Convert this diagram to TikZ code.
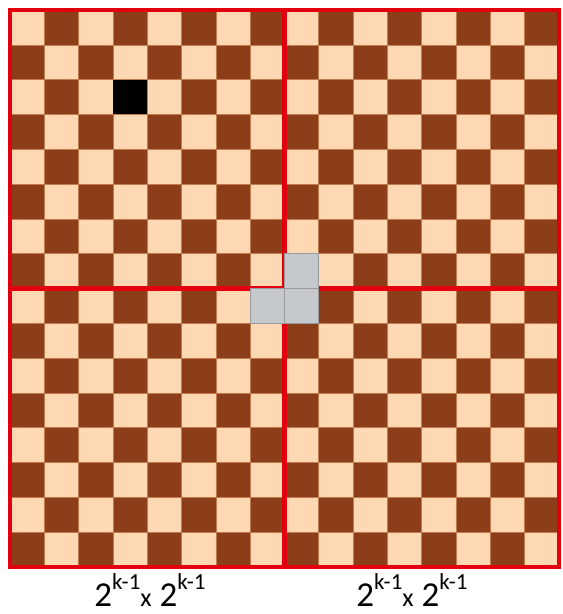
\documentclass[tikz,border=0pt]{standalone}
\usepackage{fontspec}
\setmainfont{Carlito}
\usetikzlibrary{positioning}
\definecolor{boardLight}{HTML}{FDD8B2}
\definecolor{boardDark}{HTML}{8C3E1B}
\definecolor{boardLine}{HTML}{C27B4C}
\definecolor{tileGray}{HTML}{C5C8CD}
\definecolor{tileEdge}{HTML}{999A9C}
\definecolor{cutRed}{HTML}{E2000F}
\newcommand{\halfsize}{%
  \fontsize{35}{35}\selectfont 2\raisebox{17pt}{\fontsize{23}{23}\selectfont k-1}%
  {\fontsize{26}{26}\selectfont x} 2\raisebox{17pt}{\fontsize{23}{23}\selectfont k-1}}

\begin{document}
\begin{tikzpicture}[x=1pt, y=-1pt,
    sq/.style={draw=boardLine, line width=0.6pt},
    cut/.style={draw=cutRed, line width=4.4pt},
    tromino/.style={fill=tileGray, draw=tileEdge, line width=1pt},
    lbl/.style={anchor=base, inner sep=0pt}]
  \useasboundingbox (0,0) rectangle (563,614);
  % 16 x 16 board
  \foreach \r in {0,...,15} {
    \foreach \c [evaluate=\c as \parity using {int(mod(\r+\c,2))}] in {0,...,15} {
      \ifnum\parity=0
        \filldraw[sq, fill=boardLight] (10+\c*34.3, 10+\r*34.8) rectangle ++(34.3,34.8);
      \else
        \filldraw[sq, fill=boardDark] (10+\c*34.3, 10+\r*34.8) rectangle ++(34.3,34.8);
      \fi
    }
  }
  % quadrant cuts
  \draw[cut] (10,10) rectangle (559,567);
  \draw[cut] (284.5,10) -- (284.5,567);
  \draw[cut] (10,288.5) -- (559,288.5);
  % missing square and centre tromino
  \fill[black] (10+3*34.3, 10+2*34.8) rectangle ++(34.3,34.8);
  \filldraw[tromino] (10+8*34.3, 10+7*34.8) rectangle ++(34.3,34.8);
  \filldraw[tromino] (10+7*34.3, 10+8*34.8) rectangle ++(34.3,34.8);
  \filldraw[tromino] (10+8*34.3, 10+8*34.8) rectangle ++(34.3,34.8);
  % labels
  \node[lbl] (left) at (150,606) {\halfsize};
  \node[lbl] (right) at (412,606) {\halfsize};
\end{tikzpicture}
\end{document}
